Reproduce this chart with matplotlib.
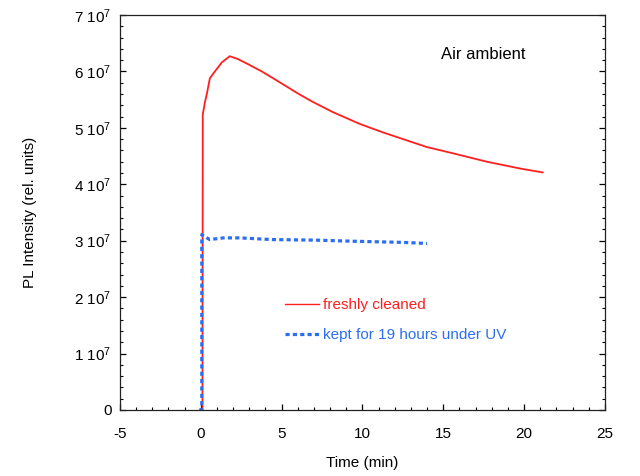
import matplotlib
matplotlib.use("Agg")
import matplotlib.pyplot as plt
from matplotlib.ticker import MultipleLocator, FixedLocator, FixedFormatter

plt.rcParams["font.family"] = ["Liberation Sans", "DejaVu Sans"]
plt.rcParams["mathtext.default"] = "regular"
plt.rcParams["axes.unicode_minus"] = False

# freshly cleaned sample (time in min, intensity in 1e7)
red_t = [0.10, 0.12, 0.19, 0.25, 0.37, 0.56, 0.87, 1.30, 1.79, 2.29, 2.91, 3.77,
         4.58, 5.38, 6.00, 6.86, 8.16, 9.83, 11.26, 12.93, 13.98, 15.58, 17.69,
         19.73, 21.15]
red_v = [0.0, 5.24, 5.35, 5.45, 5.60, 5.88, 6.00, 6.16, 6.27, 6.22, 6.13, 6.00,
         5.86, 5.72, 5.61, 5.47, 5.28, 5.07, 4.92, 4.76, 4.66, 4.55, 4.40,
         4.28, 4.21]

# kept for 19 hours under UV
blue_t = [-0.10, 0.06, 0.06, 0.20, 0.55, 1.4, 2.4, 4.4, 7.1, 9.5, 11.0, 12.5, 13.3, 14.0]
blue_v = [0.0, 0.0, 3.11, 3.08, 3.02, 3.05, 3.05, 3.02, 3.01, 2.99, 2.98, 2.97, 2.96, 2.95]

y_ticks = [0, 1, 2, 3, 4, 5, 6, 7]
y_labels = ["0"] + [f"{k} 10$^{{7}}$" for k in y_ticks[1:]]

red = "#ff1f1f"
blue = "#2b6ef2"

fig = plt.figure(figsize=(6.4, 4.76), dpi=100)
ax = fig.add_axes([0.1875, 0.1387, 0.7578, 0.8298])

ax.plot(red_t, [v * 1e7 for v in red_v], color=red, lw=1.3, label="freshly cleaned")
ax.plot(blue_t, [v * 1e7 for v in blue_v], color=blue, lw=2.3,
        linestyle=(0, (1.3, 1.0)), label="kept for 19 hours under UV")

ax.set_xlim(-5, 25)
ax.set_ylim(0, 7e7)
ax.xaxis.set_major_locator(MultipleLocator(5))
ax.xaxis.set_minor_locator(MultipleLocator(1))
ax.yaxis.set_major_locator(FixedLocator([t * 1e7 for t in y_ticks]))
ax.yaxis.set_major_formatter(FixedFormatter(y_labels))
ax.yaxis.set_minor_locator(MultipleLocator(2e6))

ax.tick_params(which="both", direction="in", top=False, right=True, labelsize=11)
ax.tick_params(which="major", length=4.5, width=0.9)
ax.tick_params(which="minor", length=2.5, width=0.8)
ax.tick_params(axis="x", pad=12)
ax.tick_params(axis="y", pad=6)
for s in ax.spines.values():
    s.set_linewidth(0.9)
    s.set_color("#222222")

ax.set_xlabel("Time (min)", fontsize=11, labelpad=11)
ax.set_ylabel("PL Intensity (rel. units)", fontsize=11, labelpad=27)

ax.text(0.662, 0.90, "Air ambient", transform=ax.transAxes, fontsize=12,
        va="center", ha="left")

leg = ax.legend(loc="upper left", bbox_to_anchor=(0.312, 0.318), frameon=False,
                fontsize=11, handlelength=2.25, handletextpad=0.25,
                labelspacing=1.05, labelcolor="linecolor")
leg.get_lines()[0].set_linewidth(1.0)

fig.savefig("out.png", dpi=100)
